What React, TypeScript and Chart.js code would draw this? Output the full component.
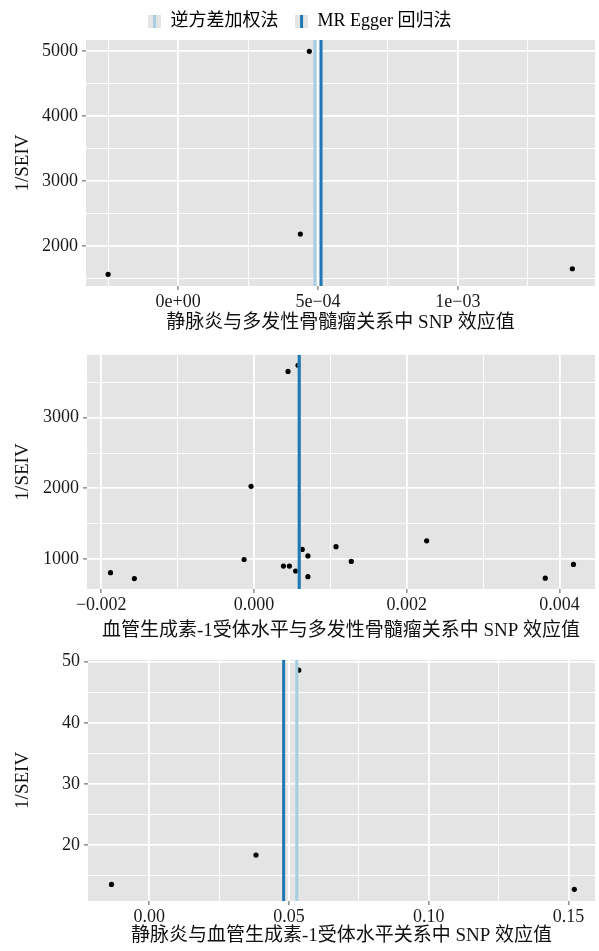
import React, { useEffect, useRef } from 'react';
import { Chart, registerables } from 'chart.js';
Chart.register(...registerables);

const FONT = '"Liberation Serif", "Noto Sans CJK SC", serif';
const IVW_COLOR = '#A6CEE3';
const EGGER_COLOR = '#1F78B4';
const BG = '#E4E4E4';
const legendLabels = ['逆方差加权法', 'MR Egger 回归法'];
const legendColors = [IVW_COLOR, EGGER_COLOR];
const yTitle = '1/SEIV';

// Panel 1: 静脉炎 -> 多发性骨髓瘤
const p1X = [-0.00025, 0.000437, 0.000469, 0.001409];
const p1Y = [1565, 2185, 5000, 1651];
const p1Ivw = 0.000489;
const p1Egger = 0.000511;
const p1XTicks = [0, 0.0005, 0.001];
const p1XTickLabels = ['0e+00', '5e\u221204', '1e\u221203'];
const p1XMinor = [-0.00025, 0.00025, 0.00075, 0.00125];
const p1YTicks = [2000, 3000, 4000, 5000];
const p1YTickLabels = ['2000', '3000', '4000', '5000'];
const p1YMinor = [1500, 2500, 3500, 4500];
const p1XRange = [-0.000329, 0.00149];
const p1YRange = [1385, 5174];
const p1Title = '静脉炎与多发性骨髓瘤关系中 SNP 效应值';

// Panel 2: 血管生成素-1受体水平 -> 多发性骨髓瘤
const p2X = [-0.001879, -0.001567, -0.00013, -0.000039, 0.000445, 0.000576, 0.000385, 0.000463, 0.000545, 0.000631, 0.000705, 0.000705, 0.001073, 0.001273, 0.00226, 0.003813, 0.004182];
const p2Y = [805, 721, 992, 2028, 3655, 3742, 898, 898, 829, 1135, 1042, 749, 1173, 964, 1256, 727, 922];
const p2Ivw = 0.00059;
const p2Egger = 0.000592;
const p2XTicks = [-0.002, 0, 0.002, 0.004];
const p2XTickLabels = ['\u22120.002', '0.000', '0.002', '0.004'];
const p2XMinor = [-0.001, 0.001, 0.003];
const p2YTicks = [1000, 2000, 3000];
const p2YTickLabels = ['1000', '2000', '3000'];
const p2YMinor = [1500, 2500, 3500];
const p2XRange = [-0.002187, 0.004464];
const p2YRange = [574, 3891];
const p2Title = '血管生成素-1受体水平与多发性骨髓瘤关系中 SNP 效应值';

// Panel 3: 静脉炎 -> 血管生成素-1受体水平
const p3X = [-0.0135, 0.0382, 0.0535, 0.1521];
const p3Y = [13.6, 18.4, 48.6, 12.8];
const p3Ivw = 0.0528;
const p3Egger = 0.0481;
const p3XTicks = [0, 0.05, 0.1, 0.15];
const p3XTickLabels = ['0.00', '0.05', '0.10', '0.15'];
const p3XMinor = [0.025, 0.075, 0.125];
const p3YTicks = [20, 30, 40, 50];
const p3YTickLabels = ['20', '30', '40', '50'];
const p3YMinor = [15, 25, 35, 45];
const p3XRange = [-0.0219, 0.1595];
const p3YRange = [10.9, 50.3];
const p3Title = '静脉炎与血管生成素-1受体水平关系中 SNP 效应值';

type PanelProps = {
  xs: number[]; ys: number[]; ivw: number; egger: number;
  xTicks: number[]; xTickLabels: string[]; xMinor: number[];
  yTicks: number[]; yTickLabels: string[]; yMinor: number[];
  xRange: number[]; yRange: number[]; title: string;
  top: number; height: number; padTop: number; axisLeft: number; axisBottom: number;
  titleBottom: number; legend: boolean;
};

function buildTicks(major: number[], labels: string[], minor: number[]) {
  const all = major.map((v, i) => ({ value: v, txt: labels[i], minor: false }))
    .concat(minor.map(v => ({ value: v, txt: '', minor: true })));
  all.sort((a, b) => a.value - b.value);
  return all;
}

function keyCanvas(color: string) {
  const c = document.createElement('canvas');
  c.width = 13; c.height = 13;
  const g = c.getContext('2d')!;
  g.fillStyle = '#E4E4E4';
  g.fillRect(0, 0, 13, 13);
  g.fillStyle = color;
  g.fillRect(5, 0, 3, 13);
  return c;
}

const bgPlugin = {
  id: 'panelBg',
  beforeDraw(chart: any) {
    const { ctx, chartArea } = chart;
    if (!chartArea) return;
    ctx.save();
    ctx.fillStyle = BG;
    ctx.fillRect(chartArea.left, chartArea.top, chartArea.right - chartArea.left, chartArea.bottom - chartArea.top);
    ctx.restore();
  },
};

function Panel(p: PanelProps) {
  const ref = useRef<HTMLCanvasElement | null>(null);
  useEffect(() => {
    if (!ref.current) return;
    const gridColor = () => '#FFFFFF';
    const gridWidth = (c: any) => (c.tick && c.tick.minor ? 0.9 : 1.8);
    const tickColor = (c: any) => (c.tick && c.tick.minor ? 'rgba(0,0,0,0)' : '#555555');
    const chart = new Chart(ref.current, {
      type: 'scatter',
      data: {
        datasets: [
          {
            label: legendLabels[1],
            data: [{ x: p.egger, y: p.yRange[0] }, { x: p.egger, y: p.yRange[1] }],
            showLine: true, borderColor: EGGER_COLOR, borderWidth: 3, pointRadius: 0, order: 0,
          } as any,
          {
            label: legendLabels[0],
            data: [{ x: p.ivw, y: p.yRange[0] }, { x: p.ivw, y: p.yRange[1] }],
            showLine: true, borderColor: IVW_COLOR, borderWidth: 3, pointRadius: 0, order: 1,
          } as any,
          {
            label: 'SNP',
            data: p.xs.map((x, i) => ({ x, y: p.ys[i] })),
            backgroundColor: '#000000', borderWidth: 0, pointRadius: 2.6, order: 2,
          } as any,
        ],
      },
      options: {
        responsive: false,
        animation: false,
        devicePixelRatio: 1,
        layout: { padding: { top: p.padTop, left: 0, right: 0, bottom: 0 } },
        plugins: {
          tooltip: { enabled: false },
          legend: {
            display: p.legend,
            position: 'top',
            labels: {
              usePointStyle: true,
              boxWidth: 14,
              boxHeight: 14,
              padding: 16,
              color: '#111111',
              font: { family: FONT, size: 18 },
              generateLabels: () => legendLabels.map((t, i) => ({
                text: t,
                pointStyle: keyCanvas(legendColors[i]) as any,
                fillStyle: legendColors[i],
                strokeStyle: legendColors[i],
                lineWidth: 0,
                hidden: false,
                datasetIndex: i,
              })),
            },
          },
        },
        scales: {
          x: {
            type: 'linear',
            min: p.xRange[0],
            max: p.xRange[1],
            afterBuildTicks: (s: any) => { s.ticks = buildTicks(p.xTicks, p.xTickLabels, p.xMinor); },
            afterFit: (s: any) => { s.height = p.axisBottom; },
            border: { display: false },
            grid: { color: gridColor, lineWidth: gridWidth, tickColor, tickLength: 4, tickWidth: 1 },
            ticks: {
              autoSkip: false, maxRotation: 0, minRotation: 0, padding: 1,
              color: '#1a1a1a', font: { family: FONT, size: 18 },
              callback: (_v: any, i: number, ticks: any[]) => ticks[i].txt,
            },
            title: {
              display: true, text: p.title, color: '#111111',
              font: { family: FONT, size: 19 }, padding: { top: 0, bottom: p.titleBottom },
            },
          },
          y: {
            type: 'linear',
            min: p.yRange[0],
            max: p.yRange[1],
            afterBuildTicks: (s: any) => { s.ticks = buildTicks(p.yTicks, p.yTickLabels, p.yMinor); },
            afterFit: (s: any) => { s.width = p.axisLeft; },
            border: { display: false },
            grid: { color: gridColor, lineWidth: gridWidth, tickColor, tickLength: 4, tickWidth: 1 },
            ticks: {
              autoSkip: false, padding: 4,
              color: '#1a1a1a', font: { family: FONT, size: 18 },
              callback: (_v: any, i: number, ticks: any[]) => ticks[i].txt,
            },
            title: {
              display: true, text: yTitle, color: '#111111',
              font: { family: FONT, size: 19 }, padding: { top: 12, bottom: 0 },
            },
          },
        },
      } as any,
      plugins: [bgPlugin],
    });
    return () => chart.destroy();
  }, []);
  return (
    <canvas
      ref={ref}
      width={599}
      height={p.height}
      style={{ position: 'absolute', left: 0, top: p.top, width: 599, height: p.height, display: 'block' }}
    />
  );
}

export default function App() {
  return (
    <div style={{ position: 'absolute', left: 0, top: 0, width: 599, height: 951, background: '#ffffff' }}>
      <Panel xs={p1X} ys={p1Y} ivw={p1Ivw} egger={p1Egger}
        xTicks={p1XTicks} xTickLabels={p1XTickLabels} xMinor={p1XMinor}
        yTicks={p1YTicks} yTickLabels={p1YTickLabels} yMinor={p1YMinor}
        xRange={p1XRange} yRange={p1YRange} title={p1Title}
        top={0} height={340} padTop={-4} axisLeft={86} axisBottom={54} titleBottom={5.6} legend={true} />
      <Panel xs={p2X} ys={p2Y} ivw={p2Ivw} egger={p2Egger}
        xTicks={p2XTicks} xTickLabels={p2XTickLabels} xMinor={p2XMinor}
        yTicks={p2YTicks} yTickLabels={p2YTickLabels} yMinor={p2YMinor}
        xRange={p2XRange} yRange={p2YRange} title={p2Title}
        top={340} height={305} padTop={11} axisLeft={87} axisBottom={56} titleBottom={2.6} legend={false} />
      <Panel xs={p3X} ys={p3Y} ivw={p3Ivw} egger={p3Egger}
        xTicks={p3XTicks} xTickLabels={p3XTickLabels} xMinor={p3XMinor}
        yTicks={p3YTicks} yTickLabels={p3YTickLabels} yMinor={p3YMinor}
        xRange={p3XRange} yRange={p3YRange} title={p3Title}
        top={645} height={306} padTop={14} axisLeft={88} axisBottom={50} titleBottom={3.6} legend={false} />
    </div>
  );
}
